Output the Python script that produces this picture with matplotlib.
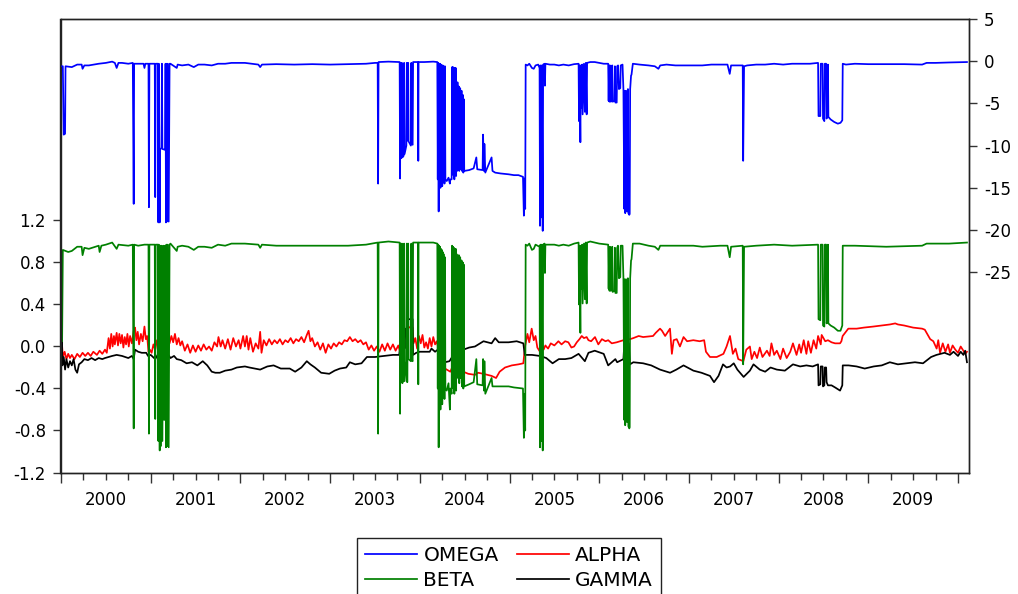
import numpy as np
import matplotlib
matplotlib.use("Agg")
import matplotlib.pyplot as plt
from matplotlib.transforms import blended_transform_factory

plt.rcParams['axes.unicode_minus'] = False
plt.rcParams['font.family'] = ['DejaVu Sans']

# (decimal year, value)
omega = [
    (2000.00, -0.6), (2000.02, -0.6), (2000.03, -8.7), (2000.045, -8.6), (2000.05, -0.6),
    (2000.12, -0.7), (2000.18, -0.4), (2000.23, -0.4), (2000.24, -0.9), (2000.26, -0.5),
    (2000.31, -0.5), (2000.42, -0.3), (2000.50, -0.2), (2000.57, -0.05), (2000.60, -0.2),
    (2000.62, -0.8), (2000.64, -0.2), (2000.68, -0.2), (2000.75, -0.3), (2000.80, -0.2),
    (2000.81, -16.9), (2000.815, -0.3), (2000.86, -0.3), (2000.92, -0.3), (2000.93, -0.8),
    (2000.94, -0.3), (2000.975, -0.3), (2000.98, -17.3), (2000.985, -0.3), (2001.045, -0.3),
    (2001.05, -16.1), (2001.055, -0.3), (2001.08, -0.3), (2001.085, -19.1), (2001.09, -0.3),
    (2001.10, -19.1), (2001.105, -10.4), (2001.12, -10.3), (2001.125, -0.3), (2001.13, -10.4),
    (2001.16, -10.5), (2001.165, -0.3), (2001.17, -19.1), (2001.175, -0.3), (2001.18, -19.0),
    (2001.19, -0.3), (2001.20, -19.0), (2001.21, -0.3), (2001.22, -0.3), (2001.29, -0.8),
    (2001.30, -0.4), (2001.35, -0.5), (2001.42, -0.4), (2001.48, -0.7), (2001.53, -0.4),
    (2001.60, -0.4), (2001.68, -0.5), (2001.75, -0.3), (2001.83, -0.3), (2001.90, -0.2),
    (2001.98, -0.2), (2002.05, -0.2), (2002.20, -0.4), (2002.22, -0.7), (2002.24, -0.4),
    (2002.40, -0.35), (2002.60, -0.4), (2002.80, -0.35), (2003.00, -0.4), (2003.20, -0.35),
    (2003.40, -0.3), (2003.50, -0.2), (2003.53, -0.2), (2003.535, -14.5), (2003.54, -0.1),
    (2003.65, -0.05), (2003.775, -0.1), (2003.78, -13.9), (2003.785, -0.2), (2003.79, -11.5),
    (2003.80, -0.2), (2003.805, -11.4), (2003.82, -11.2), (2003.825, -0.2), (2003.83, -11.0),
    (2003.85, -10.0), (2003.855, -0.2), (2003.86, -9.4), (2003.87, -0.2), (2003.875, -9.5),
    (2003.90, -10.0), (2003.905, -0.2), (2003.91, -9.8), (2003.92, -9.9), (2003.925, -0.1),
    (2003.98, -0.1), (2003.983, -11.8), (2003.986, -0.1), (2004.05, -0.1), (2004.15, -0.05),
    (2004.195, -0.1), (2004.20, -14.0), (2004.205, -0.2), (2004.21, -17.8), (2004.215, -0.3),
    (2004.22, -14.5), (2004.225, -0.3), (2004.23, -15.0), (2004.235, -0.4), (2004.24, -14.0),
    (2004.245, -0.5), (2004.25, -14.8), (2004.255, -0.5), (2004.26, -14.2), (2004.265, -0.6),
    (2004.275, -14.5), (2004.28, -0.6), (2004.285, -14.0), (2004.30, -14.2), (2004.32, -13.8),
    (2004.335, -14.5), (2004.34, -14.0), (2004.355, -14.0), (2004.36, -0.7), (2004.365, -13.0),
    (2004.37, -0.7), (2004.375, -13.5), (2004.38, -0.8), (2004.385, -14.0), (2004.39, -0.8),
    (2004.395, -13.2), (2004.40, -0.8), (2004.405, -13.6), (2004.41, -2.8), (2004.415, -13.0),
    (2004.42, -2.5), (2004.425, -12.5), (2004.435, -3.0), (2004.44, -13.0), (2004.45, -3.2),
    (2004.455, -12.8), (2004.465, -3.5), (2004.47, -13.0), (2004.48, -4.0), (2004.485, -13.2),
    (2004.49, -4.5), (2004.495, -13.0), (2004.55, -12.9), (2004.60, -12.7), (2004.63, -11.4),
    (2004.64, -12.8), (2004.70, -12.9), (2004.705, -8.7), (2004.715, -13.0), (2004.72, -9.8),
    (2004.73, -13.2), (2004.80, -11.4), (2004.81, -13.0), (2004.84, -13.2), (2004.90, -13.3),
    (2004.99, -13.4), (2005.05, -13.5), (2005.10, -13.5), (2005.15, -13.7), (2005.16, -18.3),
    (2005.165, -13.9), (2005.17, -16.0), (2005.175, -17.5), (2005.18, -0.4), (2005.20, -0.5),
    (2005.22, -0.3), (2005.25, -0.8), (2005.27, -0.9), (2005.29, -0.5), (2005.32, -0.4),
    (2005.335, -0.8), (2005.34, -19.5), (2005.345, -0.5), (2005.355, -18.5), (2005.36, -0.5),
    (2005.37, -20.1), (2005.375, -0.4), (2005.39, -0.3), (2005.395, -2.9), (2005.40, -0.3),
    (2005.45, -0.4), (2005.50, -0.4), (2005.55, -0.5), (2005.60, -0.4), (2005.66, -0.5),
    (2005.72, -0.35), (2005.77, -0.3), (2005.775, -7.1), (2005.78, -0.5), (2005.79, -9.6),
    (2005.795, -0.5), (2005.80, -5.5), (2005.81, -0.4), (2005.815, -6.3), (2005.83, -0.3),
    (2005.84, -6.0), (2005.85, -0.2), (2005.86, -6.3), (2005.865, -0.2), (2005.90, -0.1),
    (2005.95, -0.1), (2006.00, -0.2), (2006.05, -0.3), (2006.10, -0.3), (2006.105, -4.7),
    (2006.11, -0.5), (2006.115, -4.8), (2006.12, -0.5), (2006.13, -4.8), (2006.14, -4.6),
    (2006.145, -0.5), (2006.15, -4.8), (2006.17, -4.7), (2006.175, -0.6), (2006.18, -4.9),
    (2006.195, -4.9), (2006.20, -0.6), (2006.21, -0.5), (2006.22, -3.3), (2006.235, -3.2),
    (2006.24, -0.5), (2006.26, -0.4), (2006.27, -3.4), (2006.28, -17.5), (2006.285, -3.5),
    (2006.29, -18.0), (2006.30, -3.5), (2006.31, -17.8), (2006.32, -3.3), (2006.325, -18.0),
    (2006.335, -18.2), (2006.34, -18.1), (2006.345, -3.3), (2006.355, -1.7), (2006.36, -1.6),
    (2006.375, -0.3), (2006.45, -0.4), (2006.55, -0.5), (2006.62, -0.6), (2006.66, -0.9),
    (2006.68, -0.5), (2006.75, -0.4), (2006.85, -0.5), (2006.95, -0.5), (2007.05, -0.5),
    (2007.15, -0.5), (2007.25, -0.4), (2007.35, -0.4), (2007.43, -0.4), (2007.455, -1.5),
    (2007.47, -0.5), (2007.60, -0.5), (2007.605, -11.8), (2007.615, -0.6), (2007.65, -0.5),
    (2007.75, -0.4), (2007.85, -0.4), (2007.95, -0.3), (2008.05, -0.4), (2008.15, -0.3),
    (2008.25, -0.3), (2008.35, -0.3), (2008.44, -0.2), (2008.445, -6.5), (2008.465, -6.5),
    (2008.47, -0.3), (2008.49, -0.3), (2008.495, -6.8), (2008.51, -7.1), (2008.515, -0.3),
    (2008.53, -0.3), (2008.535, -6.8), (2008.545, -6.2), (2008.55, -0.4), (2008.555, -6.6),
    (2008.58, -6.9), (2008.62, -7.2), (2008.66, -7.4), (2008.69, -7.3), (2008.71, -7.0),
    (2008.715, -0.3), (2008.75, -0.4), (2008.85, -0.3), (2009.00, -0.35), (2009.20, -0.35),
    (2009.40, -0.35), (2009.60, -0.4), (2009.65, -0.2), (2009.75, -0.2), (2009.90, -0.15),
    (2010.10, -0.1),
]

beta = [
    (2000.00, 0.90), (2000.008, 0.91), (2000.012, 0.05), (2000.02, 0.92), (2000.08, 0.90),
    (2000.12, 0.91), (2000.18, 0.95), (2000.23, 0.95), (2000.24, 0.87), (2000.26, 0.94),
    (2000.31, 0.93), (2000.42, 0.96), (2000.43, 0.90), (2000.45, 0.96), (2000.50, 0.97),
    (2000.57, 0.99), (2000.62, 0.93), (2000.64, 0.97), (2000.75, 0.96), (2000.80, 0.97),
    (2000.81, -0.78), (2000.815, 0.97), (2000.86, 0.96), (2000.93, 0.97), (2000.975, 0.97),
    (2000.98, -0.83), (2000.985, 0.97), (2001.045, 0.97), (2001.05, -0.69), (2001.055, 0.97),
    (2001.08, 0.97), (2001.085, -0.90), (2001.09, 0.97), (2001.10, -0.99), (2001.105, 0.96),
    (2001.11, -0.95), (2001.12, 0.96), (2001.13, -0.90), (2001.14, 0.96), (2001.15, -0.70),
    (2001.16, 0.96), (2001.17, -0.96), (2001.175, 0.97), (2001.18, -0.95), (2001.19, 0.97),
    (2001.20, -0.96), (2001.21, 0.97), (2001.22, 0.98), (2001.29, 0.91), (2001.30, 0.95),
    (2001.35, 0.96), (2001.42, 0.95), (2001.48, 0.92), (2001.53, 0.95), (2001.60, 0.95),
    (2001.68, 0.94), (2001.75, 0.97), (2001.83, 0.96), (2001.90, 0.98), (2002.05, 0.98),
    (2002.20, 0.97), (2002.22, 0.94), (2002.24, 0.97), (2002.40, 0.96), (2002.60, 0.96),
    (2002.80, 0.96), (2003.00, 0.96), (2003.20, 0.96), (2003.40, 0.97), (2003.53, 0.99),
    (2003.535, -0.83), (2003.54, 0.99), (2003.65, 1.00), (2003.775, 0.99), (2003.78, -0.64),
    (2003.785, 0.98), (2003.79, -0.34), (2003.80, 0.98), (2003.805, -0.35), (2003.82, -0.30),
    (2003.825, 0.98), (2003.83, -0.33), (2003.85, -0.14), (2003.855, 0.98), (2003.86, -0.34),
    (2003.87, 0.98), (2003.875, -0.12), (2003.90, -0.14), (2003.905, 0.98), (2003.91, -0.13),
    (2003.92, -0.14), (2003.925, 0.99), (2003.98, 0.99), (2003.983, -0.36), (2003.986, 0.99),
    (2004.15, 0.99), (2004.195, 0.98), (2004.20, -0.40), (2004.205, 0.97), (2004.21, -0.96),
    (2004.215, 0.96), (2004.22, -0.50), (2004.225, 0.95), (2004.23, -0.60), (2004.235, 0.93),
    (2004.24, -0.40), (2004.245, 0.92), (2004.25, -0.55), (2004.255, 0.90), (2004.26, -0.45),
    (2004.265, 0.88), (2004.275, -0.50), (2004.28, 0.85), (2004.285, -0.40), (2004.30, -0.42),
    (2004.32, -0.35), (2004.335, -0.60), (2004.34, -0.40), (2004.355, -0.45), (2004.36, 0.96),
    (2004.365, -0.30), (2004.37, 0.95), (2004.375, -0.40), (2004.38, 0.94), (2004.385, -0.45),
    (2004.39, 0.93), (2004.395, -0.30), (2004.40, 0.93), (2004.405, -0.42), (2004.41, 0.88),
    (2004.415, -0.30), (2004.42, 0.85), (2004.425, -0.25), (2004.435, 0.87), (2004.44, -0.35),
    (2004.45, 0.85), (2004.455, -0.30), (2004.465, 0.82), (2004.47, -0.38), (2004.48, 0.80),
    (2004.485, -0.40), (2004.49, 0.78), (2004.495, -0.38), (2004.55, -0.36), (2004.60, -0.34),
    (2004.63, -0.12), (2004.64, -0.36), (2004.70, -0.37), (2004.705, -0.12), (2004.715, -0.42),
    (2004.72, -0.14), (2004.73, -0.45), (2004.80, -0.30), (2004.81, -0.38), (2004.90, -0.38),
    (2004.99, -0.38), (2005.05, -0.39), (2005.15, -0.40), (2005.16, -0.87), (2005.165, -0.45),
    (2005.17, -0.60), (2005.175, -0.80), (2005.18, 0.97), (2005.20, 0.96), (2005.22, 0.98),
    (2005.25, 0.92), (2005.27, 0.93), (2005.29, 0.97), (2005.335, 0.95), (2005.34, -0.96),
    (2005.345, 0.97), (2005.355, -0.90), (2005.36, 0.97), (2005.37, -0.99), (2005.375, 0.97),
    (2005.39, 0.98), (2005.395, 0.70), (2005.40, 0.97), (2005.50, 0.97), (2005.55, 0.96),
    (2005.60, 0.97), (2005.66, 0.96), (2005.72, 0.98), (2005.77, 0.99), (2005.775, 0.40),
    (2005.78, 0.96), (2005.79, 0.13), (2005.795, 0.96), (2005.80, 0.55), (2005.81, 0.97),
    (2005.815, 0.41), (2005.83, 0.98), (2005.84, 0.45), (2005.85, 0.99), (2005.86, 0.41),
    (2005.865, 0.99), (2005.90, 1.00), (2006.00, 0.98), (2006.10, 0.97), (2006.105, 0.55),
    (2006.11, 0.95), (2006.115, 0.53), (2006.12, 0.95), (2006.13, 0.53), (2006.14, 0.55),
    (2006.145, 0.95), (2006.15, 0.52), (2006.17, 0.53), (2006.175, 0.94), (2006.18, 0.51),
    (2006.195, 0.51), (2006.20, 0.94), (2006.21, 0.96), (2006.22, 0.65), (2006.235, 0.66),
    (2006.24, 0.96), (2006.26, 0.96), (2006.27, 0.65), (2006.28, -0.70), (2006.285, 0.64),
    (2006.29, -0.75), (2006.30, 0.64), (2006.31, -0.72), (2006.32, 0.65), (2006.325, -0.76),
    (2006.335, -0.78), (2006.34, -0.77), (2006.345, 0.65), (2006.355, 0.82), (2006.36, 0.83),
    (2006.375, 0.98), (2006.45, 0.98), (2006.55, 0.96), (2006.62, 0.95), (2006.66, 0.92),
    (2006.68, 0.96), (2006.85, 0.96), (2007.05, 0.96), (2007.15, 0.95), (2007.35, 0.96),
    (2007.43, 0.96), (2007.455, 0.85), (2007.47, 0.95), (2007.60, 0.96), (2007.605, -0.17),
    (2007.615, 0.95), (2007.75, 0.96), (2007.95, 0.97), (2008.15, 0.96), (2008.44, 0.97),
    (2008.445, 0.26), (2008.465, 0.25), (2008.47, 0.97), (2008.49, 0.97), (2008.495, 0.20),
    (2008.51, 0.19), (2008.515, 0.97), (2008.53, 0.97), (2008.535, 0.22), (2008.545, 0.26),
    (2008.55, 0.97), (2008.555, 0.22), (2008.58, 0.20), (2008.62, 0.18), (2008.66, 0.15),
    (2008.69, 0.15), (2008.71, 0.20), (2008.715, 0.96), (2008.85, 0.96), (2009.20, 0.95),
    (2009.60, 0.96), (2009.65, 0.98), (2009.90, 0.98), (2010.10, 0.99),
]

alpha = [
    (2000.00, -0.09), (2000.01, 0.03), (2000.02, -0.10), (2000.04, -0.05), (2000.06, -0.12),
    (2000.08, -0.07), (2000.10, -0.11), (2000.12, -0.08), (2000.15, -0.12), (2000.18, -0.07),
    (2000.21, -0.10), (2000.24, -0.06), (2000.27, -0.09), (2000.30, -0.06), (2000.33, -0.09),
    (2000.36, -0.05), (2000.40, -0.08), (2000.43, -0.04), (2000.46, -0.07), (2000.49, -0.03),
    (2000.51, -0.06), (2000.53, 0.08), (2000.545, -0.02), (2000.56, 0.12), (2000.575, 0.00),
    (2000.59, 0.10), (2000.60, 0.02), (2000.62, 0.13), (2000.635, 0.01), (2000.65, 0.12),
    (2000.665, 0.03), (2000.68, 0.11), (2000.695, -0.01), (2000.71, 0.09), (2000.725, 0.02),
    (2000.74, 0.12), (2000.755, 0.00), (2000.77, 0.10), (2000.79, 0.03), (2000.81, 0.15),
    (2000.825, 0.18), (2000.84, 0.06), (2000.855, 0.14), (2000.87, 0.02), (2000.89, 0.12),
    (2000.91, 0.05), (2000.93, 0.19), (2000.945, 0.07), (2000.96, 0.10), (2000.975, -0.05),
    (2000.99, -0.03), (2001.01, -0.06), (2001.03, 0.02), (2001.05, -0.03), (2001.07, 0.06),
    (2001.09, -0.02), (2001.11, 0.08), (2001.13, 0.00), (2001.15, 0.07), (2001.17, 0.01),
    (2001.19, 0.12), (2001.21, 0.03), (2001.23, 0.10), (2001.25, 0.04), (2001.27, 0.12),
    (2001.29, 0.02), (2001.31, 0.08), (2001.33, 0.01), (2001.35, 0.05), (2001.38, -0.04),
    (2001.41, 0.02), (2001.44, -0.06), (2001.47, 0.01), (2001.50, -0.05), (2001.53, 0.01),
    (2001.56, -0.04), (2001.59, 0.02), (2001.62, -0.03), (2001.65, 0.00), (2001.68, -0.04),
    (2001.71, 0.04), (2001.74, 0.00), (2001.755, 0.09), (2001.78, 0.00), (2001.80, 0.06),
    (2001.83, -0.02), (2001.86, 0.07), (2001.89, -0.03), (2001.92, 0.08), (2001.95, 0.00),
    (2001.98, 0.06), (2002.00, -0.02), (2002.03, 0.10), (2002.05, 0.00), (2002.07, 0.10),
    (2002.09, -0.03), (2002.11, 0.08), (2002.14, -0.05), (2002.17, 0.03), (2002.20, -0.02),
    (2002.22, 0.14), (2002.235, -0.06), (2002.26, 0.06), (2002.29, 0.01), (2002.32, 0.07),
    (2002.35, 0.02), (2002.38, 0.06), (2002.41, 0.03), (2002.44, 0.07), (2002.47, 0.02),
    (2002.50, 0.06), (2002.53, 0.04), (2002.56, 0.08), (2002.59, 0.03), (2002.62, 0.07),
    (2002.65, 0.05), (2002.68, 0.09), (2002.71, 0.04), (2002.74, 0.11), (2002.76, 0.15),
    (2002.78, 0.05), (2002.80, 0.08), (2002.83, 0.00), (2002.86, 0.04), (2002.89, -0.03),
    (2002.92, 0.03), (2002.95, -0.06), (2002.98, 0.02), (2003.01, -0.02), (2003.04, 0.03),
    (2003.07, 0.00), (2003.10, 0.04), (2003.13, 0.02), (2003.16, 0.06), (2003.19, 0.05),
    (2003.22, 0.09), (2003.25, 0.05), (2003.28, 0.07), (2003.31, 0.04), (2003.34, 0.06),
    (2003.37, 0.02), (2003.40, 0.04), (2003.43, -0.03), (2003.46, 0.01), (2003.49, -0.04),
    (2003.52, 0.00), (2003.55, -0.05), (2003.58, 0.02), (2003.61, -0.04), (2003.64, 0.03),
    (2003.67, -0.03), (2003.70, 0.02), (2003.73, -0.04), (2003.76, 0.01), (2003.78, -0.05),
    (2003.80, 0.10), (2003.82, 0.05), (2003.84, 0.15), (2003.86, 0.18), (2003.88, 0.18),
    (2003.90, 0.19), (2003.92, 0.18), (2003.93, 0.03), (2003.95, 0.08), (2003.97, -0.02),
    (2003.99, 0.10), (2004.01, 0.03), (2004.03, 0.11), (2004.05, -0.01), (2004.07, 0.04),
    (2004.09, -0.02), (2004.11, 0.08), (2004.13, 0.00), (2004.15, 0.09), (2004.17, 0.02),
    (2004.19, 0.05), (2004.206, -0.02), (2004.243, -0.15), (2004.28, -0.21), (2004.34, -0.24),
    (2004.36, -0.20), (2004.43, -0.20), (2004.485, -0.24), (2004.54, -0.26), (2004.615, -0.27),
    (2004.65, -0.25), (2004.708, -0.26), (2004.80, -0.28), (2004.85, -0.30), (2004.89, -0.24),
    (2004.95, -0.20), (2005.025, -0.18), (2005.10, -0.17), (2005.154, -0.16), (2005.173, 0.00),
    (2005.20, 0.12), (2005.22, 0.04), (2005.247, 0.17), (2005.27, 0.06), (2005.29, 0.10),
    (2005.31, -0.01), (2005.34, -0.05), (2005.36, 0.03), (2005.38, -0.03), (2005.40, 0.01),
    (2005.43, -0.02), (2005.46, 0.03), (2005.50, 0.01), (2005.545, 0.05), (2005.58, 0.02),
    (2005.62, 0.05), (2005.656, 0.04), (2005.69, -0.01), (2005.72, 0.00), (2005.75, 0.04),
    (2005.78, 0.07), (2005.805, 0.10), (2005.83, 0.08), (2005.86, 0.09), (2005.88, 0.06),
    (2005.91, 0.05), (2005.953, 0.09), (2005.99, 0.02), (2006.03, 0.07), (2006.07, 0.05),
    (2006.10, 0.06), (2006.14, 0.03), (2006.195, 0.04), (2006.27, 0.06), (2006.343, 0.07),
    (2006.38, 0.08), (2006.44, 0.10), (2006.49, 0.09), (2006.60, 0.10), (2006.63, 0.13),
    (2006.678, 0.17), (2006.70, 0.15), (2006.735, 0.10), (2006.789, 0.17), (2006.81, -0.07),
    (2006.83, 0.06), (2006.864, 0.07), (2006.90, 0.00), (2006.94, 0.09), (2006.98, 0.05),
    (2007.049, 0.06), (2007.12, 0.05), (2007.17, 0.06), (2007.19, -0.05), (2007.235, -0.10),
    (2007.31, -0.10), (2007.385, -0.07), (2007.42, 0.00), (2007.458, 0.10), (2007.49, -0.07),
    (2007.52, -0.02), (2007.55, -0.12), (2007.607, -0.14), (2007.64, -0.03), (2007.68, 0.00),
    (2007.70, -0.12), (2007.73, -0.05), (2007.76, -0.11), (2007.79, -0.01), (2007.82, -0.10),
    (2007.87, -0.04), (2007.90, -0.09), (2007.92, 0.03), (2007.95, -0.08), (2007.98, -0.04),
    (2008.02, -0.12), (2008.05, -0.02), (2008.09, -0.11), (2008.13, -0.05), (2008.16, 0.03),
    (2008.20, -0.08), (2008.23, 0.02), (2008.25, -0.06), (2008.28, 0.06), (2008.31, -0.07),
    (2008.33, 0.05), (2008.36, -0.06), (2008.39, 0.06), (2008.42, -0.02), (2008.44, 0.10),
    (2008.47, 0.02), (2008.48, 0.11), (2008.52, 0.05), (2008.55, 0.06), (2008.59, 0.04),
    (2008.63, 0.03), (2008.685, 0.03), (2008.70, 0.05), (2008.714, 0.10), (2008.777, 0.17),
    (2008.87, 0.17), (2008.95, 0.18), (2009.056, 0.19), (2009.15, 0.20), (2009.242, 0.21),
    (2009.30, 0.22), (2009.33, 0.21), (2009.40, 0.20), (2009.50, 0.18), (2009.60, 0.17),
    (2009.63, 0.16), (2009.69, 0.07), (2009.725, 0.05), (2009.762, -0.02), (2009.78, 0.06),
    (2009.80, -0.06), (2009.83, 0.03), (2009.86, -0.05), (2009.89, 0.02), (2009.91, -0.06),
    (2009.94, 0.01), (2009.97, -0.03), (2010.00, -0.06), (2010.03, 0.00), (2010.06, -0.04),
    (2010.08, -0.07), (2010.10, -0.05),
]

gamma = [
    (2000.00, -0.12), (2000.01, 0.05), (2000.015, -0.18), (2000.03, -0.10), (2000.045, -0.22),
    (2000.06, -0.12), (2000.08, -0.20), (2000.10, -0.14), (2000.12, -0.18), (2000.14, -0.12),
    (2000.16, -0.22), (2000.18, -0.25), (2000.20, -0.17), (2000.23, -0.15), (2000.26, -0.12),
    (2000.30, -0.13), (2000.34, -0.11), (2000.38, -0.13), (2000.42, -0.11), (2000.46, -0.12),
    (2000.49, -0.11), (2000.53, -0.10), (2000.57, -0.09), (2000.62, -0.08), (2000.68, -0.09),
    (2000.75, -0.11), (2000.79, -0.09), (2000.81, -0.12), (2000.825, -0.03), (2000.86, -0.05),
    (2000.90, -0.06), (2000.95, -0.06), (2000.97, -0.09), (2001.00, -0.08), (2001.05, -0.12),
    (2001.09, -0.06), (2001.12, -0.04), (2001.15, 0.03), (2001.17, -0.02), (2001.19, -0.07),
    (2001.22, -0.11), (2001.26, -0.09), (2001.29, -0.12), (2001.34, -0.13), (2001.40, -0.16),
    (2001.46, -0.15), (2001.52, -0.18), (2001.58, -0.14), (2001.63, -0.18), (2001.68, -0.24),
    (2001.72, -0.25), (2001.77, -0.25), (2001.83, -0.23), (2001.90, -0.22), (2001.96, -0.20),
    (2002.05, -0.19), (2002.10, -0.20), (2002.22, -0.22), (2002.30, -0.19), (2002.37, -0.18),
    (2002.45, -0.21), (2002.55, -0.21), (2002.61, -0.24), (2002.68, -0.20), (2002.74, -0.14),
    (2002.78, -0.17), (2002.83, -0.20), (2002.90, -0.25), (2002.99, -0.26), (2003.05, -0.23),
    (2003.11, -0.21), (2003.18, -0.20), (2003.22, -0.15), (2003.28, -0.17), (2003.35, -0.16),
    (2003.41, -0.10), (2003.50, -0.10), (2003.60, -0.09), (2003.70, -0.08), (2003.77, -0.08),
    (2003.78, 0.00), (2003.79, -0.06), (2003.80, 0.08), (2003.81, -0.05), (2003.82, 0.15),
    (2003.83, -0.02), (2003.84, 0.17), (2003.85, 0.10), (2003.86, 0.26), (2003.92, 0.26),
    (2003.925, -0.08), (2003.96, -0.06), (2004.00, -0.05), (2004.05, -0.05), (2004.11, -0.05),
    (2004.13, -0.02), (2004.17, -0.05), (2004.20, -0.03), (2004.205, 0.18), (2004.21, -0.02),
    (2004.24, -0.10), (2004.28, -0.15), (2004.33, -0.14), (2004.36, -0.10), (2004.40, -0.12),
    (2004.43, -0.10), (2004.485, -0.03), (2004.55, -0.01), (2004.615, 0.00), (2004.71, 0.05),
    (2004.80, 0.03), (2004.84, 0.08), (2004.88, 0.04), (2004.99, 0.04), (2005.08, 0.05),
    (2005.154, 0.03), (2005.17, -0.08), (2005.25, -0.08), (2005.34, -0.09), (2005.41, -0.11),
    (2005.48, -0.16), (2005.55, -0.12), (2005.62, -0.12), (2005.69, -0.11), (2005.77, -0.07),
    (2005.80, -0.10), (2005.84, -0.14), (2005.88, -0.06), (2005.95, -0.04), (2006.05, -0.07),
    (2006.10, -0.18), (2006.14, -0.15), (2006.18, -0.12), (2006.20, -0.15), (2006.27, -0.12),
    (2006.28, 0.03), (2006.29, -0.16), (2006.30, 0.02), (2006.32, -0.17), (2006.33, 0.03),
    (2006.343, -0.17), (2006.38, -0.15), (2006.49, -0.16), (2006.58, -0.18), (2006.678, -0.22),
    (2006.79, -0.25), (2006.86, -0.22), (2006.94, -0.18), (2007.05, -0.23), (2007.14, -0.25),
    (2007.235, -0.28), (2007.28, -0.34), (2007.33, -0.28), (2007.38, -0.17), (2007.42, -0.20),
    (2007.46, -0.19), (2007.50, -0.16), (2007.54, -0.22), (2007.61, -0.29), (2007.68, -0.23),
    (2007.72, -0.17), (2007.79, -0.22), (2007.85, -0.24), (2007.91, -0.20), (2007.98, -0.22),
    (2008.07, -0.23), (2008.16, -0.17), (2008.24, -0.19), (2008.31, -0.18), (2008.38, -0.19),
    (2008.44, -0.17), (2008.445, -0.37), (2008.465, -0.36), (2008.47, -0.19), (2008.49, -0.19),
    (2008.495, -0.38), (2008.51, -0.37), (2008.515, -0.20), (2008.53, -0.20), (2008.535, -0.34),
    (2008.55, -0.37), (2008.59, -0.37), (2008.63, -0.39), (2008.685, -0.42), (2008.71, -0.37),
    (2008.715, -0.18), (2008.78, -0.18), (2008.87, -0.19), (2008.96, -0.21), (2009.06, -0.19),
    (2009.15, -0.18), (2009.24, -0.15), (2009.33, -0.17), (2009.43, -0.16), (2009.52, -0.15),
    (2009.61, -0.16), (2009.70, -0.10), (2009.76, -0.08), (2009.85, -0.06), (2009.91, -0.08),
    (2009.95, -0.05), (2010.00, -0.09), (2010.03, -0.05), (2010.06, -0.08), (2010.08, -0.04),
    (2010.10, -0.15),
]

years = list(range(2000, 2010))
left_ticks = [-1.2, -0.8, -0.4, 0.0, 0.4, 0.8, 1.2]
right_ticks = [5, 0, -5, -10, -15, -20, -25]

W, H = 1018, 594
fig = plt.figure(figsize=(W / 100, H / 100), dpi=100)
ax = fig.add_axes([60.5 / W, 1 - 472.5 / H, (969.3 - 60.5) / W, (472.5 - 19) / H])
ax2 = ax.twinx()

a = np.array(alpha).T
g = np.array(gamma).T
b = np.array(beta).T
o = np.array(omega).T
la, = ax.plot(a[0], a[1], color='#ff0000', lw=1.25, label='ALPHA')
lg, = ax.plot(g[0], g[1], color='#000000', lw=1.25, label='GAMMA')
lb, = ax.plot(b[0], b[1], color='#008000', lw=1.25, label='BETA')
lo, = ax2.plot(o[0], o[1], color='#0000ff', lw=1.25, label='OMEGA')

ax.set_xlim(1999.994, 2010.126)
ax.set_ylim(-1.2, 3.119)
ax2.set_ylim(-48.73, 5)

ax.set_yticks(left_ticks)
ax.set_yticklabels([f'{v:.1f}' for v in left_ticks])
ax2.set_yticks(right_ticks)
ax2.set_yticklabels([str(v) for v in right_ticks])

ax.set_xticks(list(range(2000, 2011)))
ax.set_xticks([y + q for y in range(2000, 2010) for q in (0.25, 0.5, 0.75)], minor=True)
ax.tick_params(axis='x', which='major', length=7.5, width=1.0, labelbottom=False, color='#333333')
ax.tick_params(axis='x', which='minor', length=5, width=1.0, color='#333333')
ax.tick_params(axis='y', length=6, width=1.0, pad=4.5, labelsize=12, color='#333333')
ax2.tick_params(axis='y', length=6, width=1.0, pad=4.5, labelsize=12, color='#333333')

trans = blended_transform_factory(ax.transData, ax.transAxes)
for yr in years:
    ax.text(yr + 0.5, -0.040, str(yr), transform=trans, ha='center', va='top', fontsize=12)

for sp in list(ax.spines.values()) + list(ax2.spines.values()):
    sp.set_linewidth(1.0)
    sp.set_color('#222222')

fig.legend([lo, lb, la, lg], ['OMEGA', 'BETA', 'ALPHA', 'GAMMA'], ncol=2,
           loc='upper left', bbox_to_anchor=(357 / W, 1 - 538 / H), borderaxespad=0,
           fontsize=14.5, frameon=True, fancybox=False, edgecolor='#222222',
           framealpha=1, handlelength=2.6, handletextpad=0.3, columnspacing=0.9,
           labelspacing=0.3, borderpad=0.4)

fig.savefig('out.png', dpi=100)
